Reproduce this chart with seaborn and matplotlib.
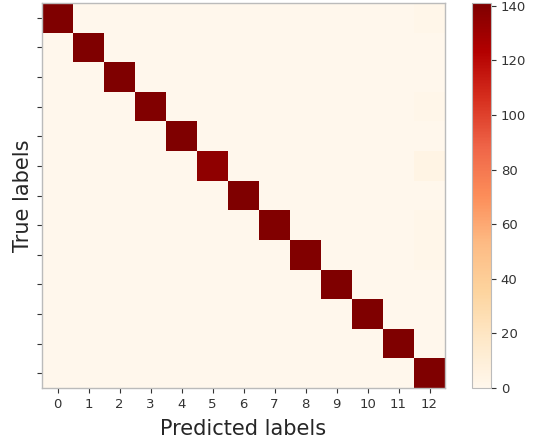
import numpy as np
import matplotlib
matplotlib.use("Agg")
import matplotlib.pyplot as plt
import seaborn as sns

classes = list(range(13))
diag_counts = [141, 141, 141, 140, 141, 135, 141, 140, 140, 141, 141, 141, 141]
# off-diagonal misclassifications: (true row, predicted col, count)
off_rows = [0, 3, 5, 7, 8]
off_cols = [12, 12, 12, 12, 12]
off_vals = [2, 2, 4, 2, 2]
cbar_ticks = [0, 20, 40, 60, 80, 100, 120, 140]

cm = np.zeros((13, 13))
for i, v in enumerate(diag_counts):
    cm[i, i] = v
for r, c, v in zip(off_rows, off_cols, off_vals):
    cm[r, c] = v

sns.set_style("ticks")
fig = plt.figure(figsize=(5.40, 4.43), dpi=100)
ax = fig.add_axes([42/540, 1 - 388/443, 403/540, 385/443])
cax = fig.add_axes([472/540, 1 - 388/443, 19/540, 385/443])

sns.heatmap(cm, ax=ax, cbar_ax=cax, cmap="OrRd", vmin=0, vmax=141,
            xticklabels=classes, yticklabels=classes,
            cbar_kws={"ticks": cbar_ticks})

ax.tick_params(axis="y", labelleft=False, colors="#333333")
ax.tick_params(axis="x", labelsize=9.5, colors="#333333", rotation=0)
ax.set_xlabel("Predicted labels", fontsize=15, color="#262626", labelpad=6)
ax.set_ylabel("True labels", fontsize=15, color="#262626", labelpad=3)
for s in ax.spines.values():
    s.set_visible(True)
    s.set_color("#bbbbbb")
    s.set_linewidth(1.0)

cax.tick_params(labelsize=9.5, colors="#333333")
cbar = ax.collections[0].colorbar
cbar.outline.set_visible(True)
cbar.outline.set_edgecolor("#bbbbbb")
cbar.outline.set_linewidth(0.8)

fig.savefig("out.png", dpi=100)
